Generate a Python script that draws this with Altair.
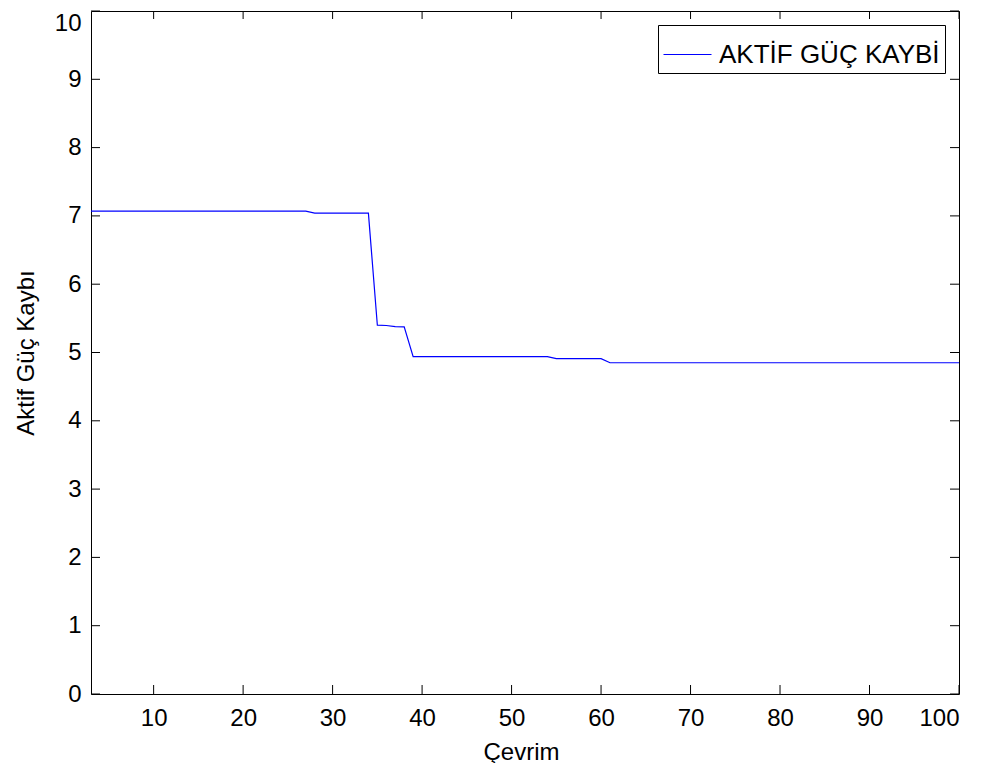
import altair as alt
import pandas as pd

# Data
cycles = list(range(3, 101))
loss = (
    [7.07] * 25          # 3..27
    + [7.04] * 7         # 28..34
    + [5.40, 5.395, 5.38, 5.375]   # 35..38
    + [4.94] * 16        # 39..54
    + [4.91] * 6         # 55..60
    + [4.85] * 40        # 61..100
)
series_name = "AKTİF GÜÇ KAYBİ"
x_ticks = [10, 20, 30, 40, 50, 60, 70, 80, 90, 100]
y_ticks = [0, 1, 2, 3, 4, 5, 6, 7, 8, 9, 10]

W, H = 868, 683
FONT = "Liberation Sans"

df = pd.DataFrame({"x": cycles, "y": loss, "s": [series_name] * len(cycles)})
xt = pd.DataFrame({"x": x_ticks})
yt = pd.DataFrame({"y": y_ticks})

xscale = alt.Scale(domain=[3, 100], nice=False, zero=False)
yscale = alt.Scale(domain=[0, 10], nice=False)

xaxis = alt.Axis(
    values=x_ticks, title="Çevrim", labelPadding=12, tickSize=0,
    titleBaseline="alphabetic", titleY=65, titleX=430, titleAlign="center")
yaxis = alt.Axis(
    values=y_ticks, title="Aktif Güç Kaybı", labelPadding=10, tickSize=0,
    labelOffset={"condition": {"test": "datum.value == 10", "value": 12}, "value": 0},
    titleAngle=270, titleX=-58, titleY=H / 2, titleBaseline="alphabetic",
    titleAlign="center")

line = alt.Chart(df).mark_line(strokeWidth=1.2).encode(
    x=alt.X("x:Q", scale=xscale, axis=xaxis),
    y=alt.Y("y:Q", scale=yscale, axis=yaxis),
    color=alt.Color("s:N", scale=alt.Scale(range=["#0000ff"]), legend=alt.Legend(
        title=None, orient="none", legendX=567, legendY=14, padding=5,
        strokeColor="black", fillColor="white", labelFontSize=26, labelFont=FONT,
        labelColor="black", labelLimit=0, symbolType="stroke", symbolSize=2304,
        symbolStrokeWidth=1, labelOffset=7, cornerRadius=0)),
)

tick_style = dict(color="black", strokeWidth=1)
yl = alt.Chart(yt).mark_rule(**tick_style).encode(
    y=alt.Y("y:Q", scale=yscale, axis=yaxis), x=alt.value(0), x2=alt.value(9))
yr = alt.Chart(yt).mark_rule(**tick_style).encode(
    y=alt.Y("y:Q", scale=yscale, axis=yaxis), x=alt.value(W - 9), x2=alt.value(W))
xb = alt.Chart(xt).mark_rule(**tick_style).encode(
    x=alt.X("x:Q", scale=xscale, axis=xaxis), y=alt.value(H), y2=alt.value(H - 9))
xtp = alt.Chart(xt).mark_rule(**tick_style).encode(
    x=alt.X("x:Q", scale=xscale, axis=xaxis), y=alt.value(0), y2=alt.value(8))

chart = alt.layer(line, yl, yr, xb, xtp).properties(
    width=W, height=H,
    autosize=alt.AutoSizeParams(type="none"),
    padding={"left": 83, "top": 3, "right": 20, "bottom": 69},
    background="white",
).configure_view(stroke="black", strokeWidth=1).configure_axis(
    labelFont=FONT, labelFontSize=24, labelColor="black",
    titleFont=FONT, titleFontSize=24, titleFontWeight="normal", titleColor="black",
    domain=False, grid=False,
)

chart.save("out.html", embed_options={"renderer": "svg", "actions": False})
